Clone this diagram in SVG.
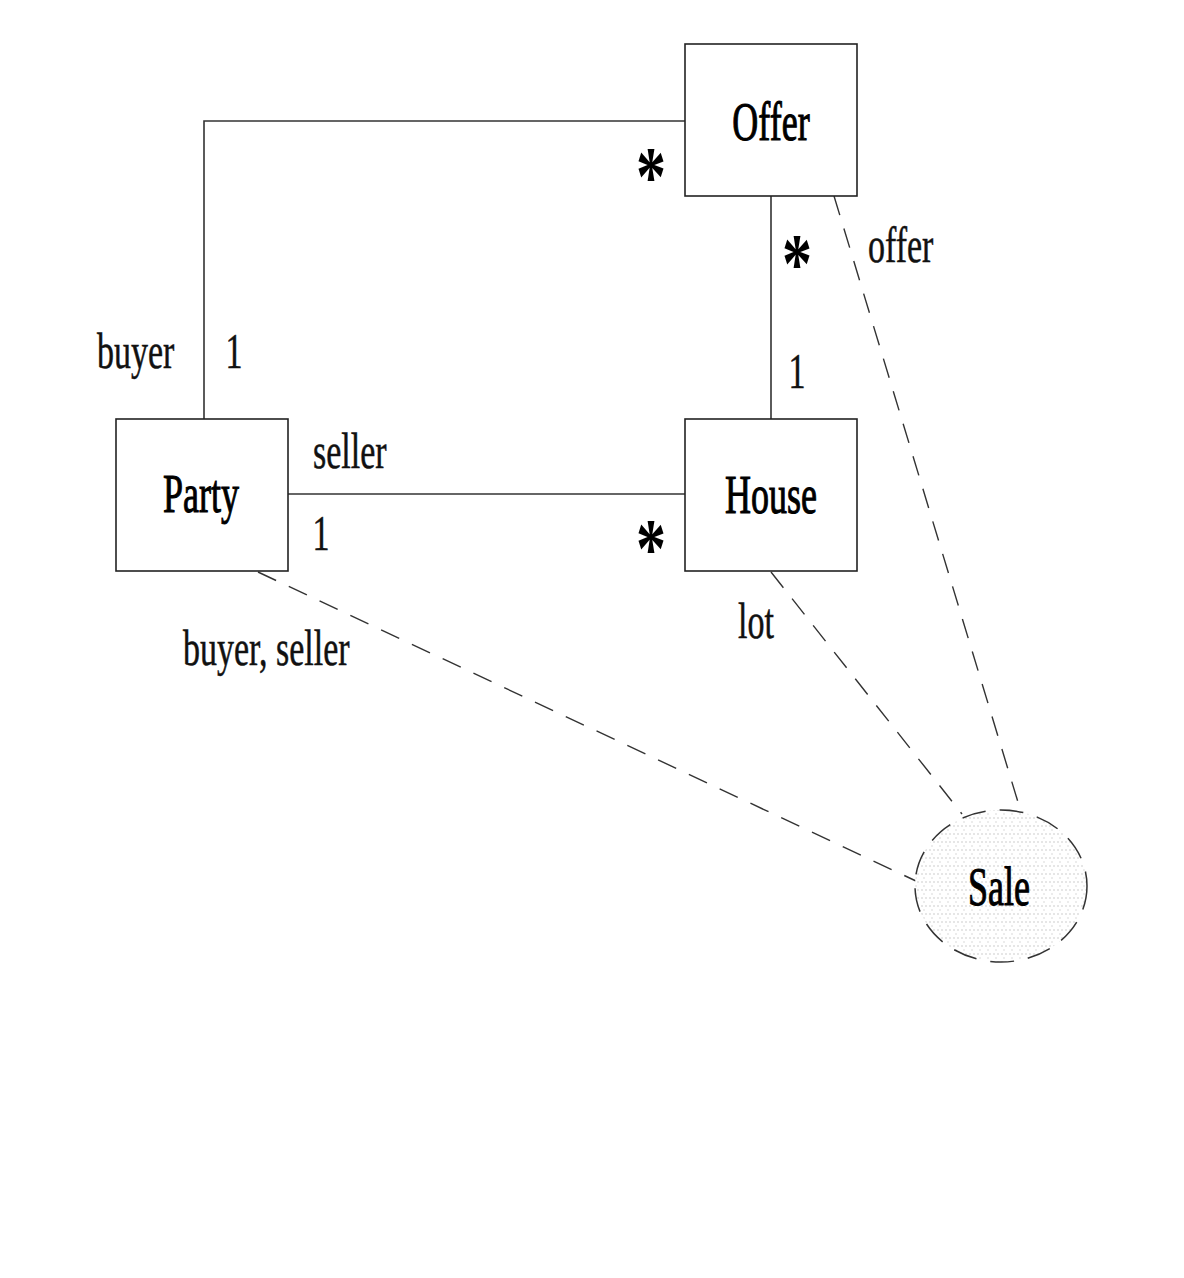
<svg xmlns="http://www.w3.org/2000/svg" width="1184" height="1278" viewBox="0 0 1184 1278">
<style>
.box{fill:#fff;stroke:#222;stroke-width:1.6}
.solid{fill:none;stroke:#333;stroke-width:1.6}
.dash{fill:none;stroke:#333;stroke-width:1.4;stroke-dasharray:20 14}
.t{font-family:"Liberation Serif","Times New Roman",serif;font-size:34px;fill:#111;stroke:#111;stroke-width:0.35}
.n{font-family:"Liberation Serif","Times New Roman",serif;font-size:36px;fill:#000;stroke:#000;stroke-width:0.7;text-anchor:middle}
.star{font-family:"Liberation Serif","Times New Roman",serif;font-size:60px;font-weight:bold;fill:#000;text-anchor:middle}
</style>
<defs>
<pattern id="dots" width="8" height="8" patternUnits="userSpaceOnUse">
<rect x="0" y="0" width="8" height="8" fill="#fff"/>
<circle cx="2" cy="2" r="0.8" fill="#c8c8c8"/>
<circle cx="6" cy="2" r="0.8" fill="#c8c8c8"/>
<circle cx="4" cy="6" r="0.8" fill="#d4d4d4"/>
</pattern>
</defs>
<rect width="1184" height="1278" fill="#fff"/>
<g id="connectors">
<polyline class="solid" points="685,121 204,121 204,419"/>
<line class="solid" x1="771" y1="196" x2="771" y2="419"/>
<line class="solid" x1="288" y1="494" x2="685" y2="494"/>
<line class="dash" x1="258" y1="572" x2="916" y2="881"/>
<line class="dash" x1="771" y1="572" x2="962" y2="814"/>
<line class="dash" x1="834" y1="196" x2="1021" y2="812"/>
</g>
<g id="labels">
<text class="t" transform="translate(97,368) scale(1,1.5)">buyer</text>
<text class="t" transform="translate(234,368) scale(1,1.5)" text-anchor="middle">1</text>
<text class="t" transform="translate(313,468) scale(1,1.5)">seller</text>
<text class="t" transform="translate(321,550) scale(1,1.5)" text-anchor="middle">1</text>
<text class="t" transform="translate(797,388) scale(1,1.5)" text-anchor="middle">1</text>
<text class="t" transform="translate(868,262) scale(1,1.5)">offer</text>
<text class="t" transform="translate(738,638) scale(1,1.5)">lot</text>
<text class="t" transform="translate(183,665) scale(1,1.5)">buyer, seller</text>
<text class="star" transform="translate(651,205) scale(1,1.4)">*</text>
<text class="star" transform="translate(797,292) scale(1,1.4)">*</text>
<text class="star" transform="translate(651,577) scale(1,1.4)">*</text>
</g>
<g id="offer">
<rect class="box" x="685" y="44" width="172" height="152"/>
<text class="n" transform="translate(771,140) scale(1,1.55)">Offer</text>
</g>
<g id="party">
<rect class="box" x="116" y="419" width="172" height="152"/>
<text class="n" transform="translate(201,512) scale(1,1.55)">Party</text>
</g>
<g id="house">
<rect class="box" x="685" y="419" width="172" height="152"/>
<text class="n" transform="translate(771,513) scale(1,1.55)">House</text>
</g>
<g id="sale">
<ellipse cx="1001" cy="886" rx="86" ry="76" fill="url(#dots)" stroke="#333" stroke-width="1.5" stroke-dasharray="24 14"/>
<text class="n" transform="translate(999,905) scale(1,1.55)">Sale</text>
</g>
</svg>
